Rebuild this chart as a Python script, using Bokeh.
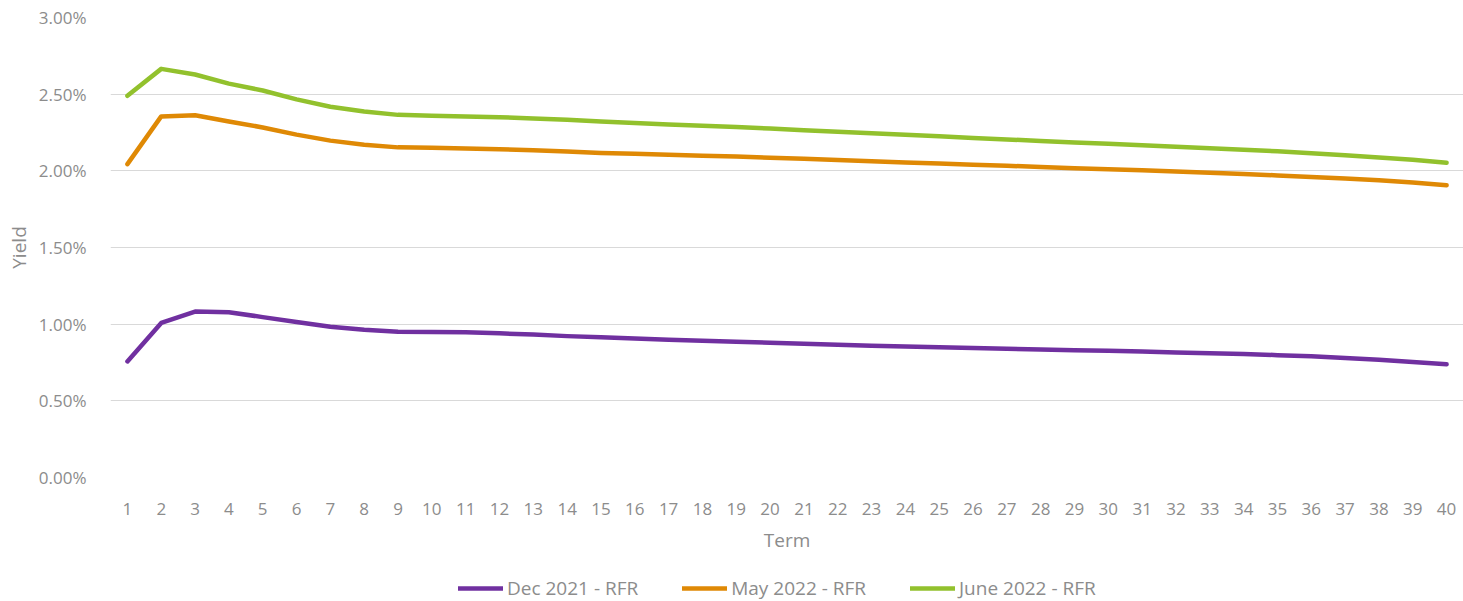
from bokeh.plotting import figure
from bokeh.layouts import column
from bokeh.models import Range1d, FixedTicker, PrintfTickFormatter, Legend, LegendItem
from bokeh.embed import file_html
from bokeh.resources import INLINE

terms = list(range(1, 41))

dec_2021 = [0.757, 1.008, 1.082, 1.078, 1.046, 1.014, 0.983, 0.963, 0.951, 0.949,
            0.947, 0.940, 0.932, 0.922, 0.914, 0.906, 0.898, 0.892, 0.886, 0.879,
            0.872, 0.866, 0.860, 0.855, 0.850, 0.845, 0.840, 0.834, 0.830, 0.826,
            0.821, 0.816, 0.811, 0.806, 0.798, 0.790, 0.780, 0.768, 0.754, 0.738]

may_2022 = [2.044, 2.355, 2.363, 2.322, 2.283, 2.236, 2.197, 2.170, 2.153, 2.150,
            2.146, 2.141, 2.134, 2.126, 2.117, 2.111, 2.105, 2.099, 2.093, 2.086,
            2.078, 2.070, 2.062, 2.055, 2.048, 2.040, 2.033, 2.025, 2.017, 2.010,
            2.003, 1.995, 1.988, 1.980, 1.970, 1.960, 1.950, 1.939, 1.924, 1.906]

june_2022 = [2.489, 2.665, 2.628, 2.569, 2.524, 2.466, 2.418, 2.387, 2.365, 2.360,
             2.355, 2.350, 2.342, 2.333, 2.322, 2.312, 2.302, 2.294, 2.286, 2.276,
             2.265, 2.255, 2.245, 2.235, 2.225, 2.214, 2.205, 2.195, 2.185, 2.176,
             2.167, 2.157, 2.147, 2.137, 2.127, 2.115, 2.101, 2.087, 2.072, 2.052]

series_names = ["Dec 2021 - RFR", "May 2022 - RFR", "June 2022 - RFR"]
series_values = [dec_2021, may_2022, june_2022]
colors = ["#7030A0", "#DF8905", "#92C12D"]

y_ticks = [0.0, 0.5, 1.0, 1.5, 2.0, 2.5, 3.0]

FONT = "Open Sans"
TXT = "#8C8C8C"

p = figure(width=1463, height=560, output_backend="svg", toolbar_location=None,
           x_range=Range1d(0.5, 40.5), y_range=Range1d(0, 3.0),
           min_border_left=110, min_border_right=0, min_border_top=17, min_border_bottom=83)
p.outline_line_color = None

for vals, c in zip(series_values, colors):
    p.line(terms, vals, line_color=c, line_width=4.5, line_cap="round", line_join="round")

p.xgrid.visible = False
p.ygrid.grid_line_color = "#D9D9D9"
p.ygrid.grid_line_width = 1

p.xaxis.ticker = FixedTicker(ticks=terms)
p.yaxis.ticker = FixedTicker(ticks=y_ticks)
p.yaxis.formatter = PrintfTickFormatter(format="%.2f%%")

for ax in (p.xaxis[0], p.yaxis[0]):
    ax.axis_line_color = None
    ax.major_tick_line_color = None
    ax.minor_tick_line_color = None
    ax.major_label_text_font = FONT
    ax.major_label_text_font_size = "17px"
    ax.major_label_text_color = TXT
    ax.axis_label_text_font = FONT
    ax.axis_label_text_font_size = "19px"
    ax.axis_label_text_color = TXT
    ax.axis_label_text_font_style = "normal"

p.xaxis.axis_label = "Term"
p.yaxis.axis_label = "Yield"
p.xaxis.major_label_standoff = 19
p.xaxis.axis_label_standoff = 9
p.yaxis.major_label_standoff = 18
p.yaxis.axis_label_standoff = 4

# legend strip: same series drawn outside its visible range, only legend shows
lg = figure(width=1463, height=41, output_backend="svg", toolbar_location=None,
            x_range=Range1d(-20, -19), y_range=Range1d(0, 1),
            min_border_left=110, min_border_right=0, min_border_top=0, min_border_bottom=0)
lg.outline_line_color = None
lg.axis.visible = False
lg.grid.visible = False

items = []
for name, vals, c in zip(series_names, series_values, colors):
    r = lg.line(terms, vals, line_color=c, line_width=4.5, line_cap="round")
    items.append(LegendItem(label=name, renderers=[r]))

legend = Legend(items=items, orientation="horizontal", location=(348, 0),
                label_text_font=FONT, label_text_font_size="19px", label_text_color=TXT,
                glyph_width=45, glyph_height=18, label_standoff=4, spacing=44,
                border_line_color=None, background_fill_alpha=0, padding=0, margin=0)
lg.add_layout(legend, "center")

layout = column(p, lg, spacing=0)
open("out.html", "w").write(file_html(layout, INLINE))
